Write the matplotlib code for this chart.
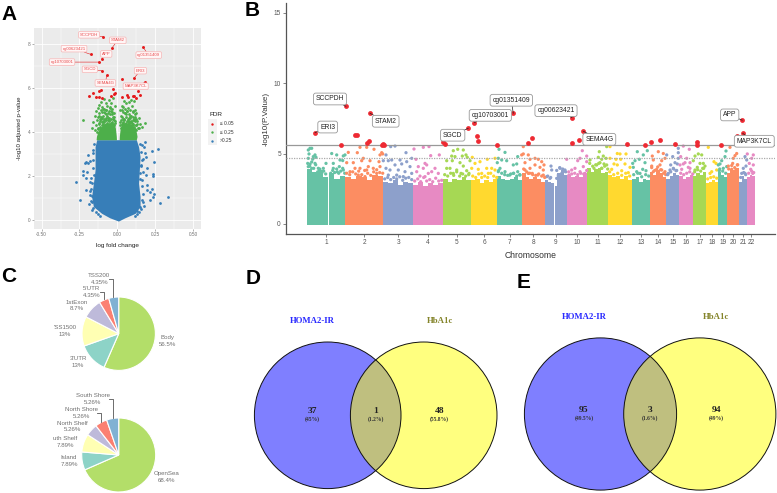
import matplotlib
matplotlib.use('Agg')
import matplotlib.pyplot as plt
from matplotlib.patches import Circle, Rectangle
import numpy as np

plt.rcParams['font.family'] = ['Liberation Sans', 'DejaVu Sans']

W, H = 777, 493

# ---- panel A, volcano ----
sig_fc = [-0.094, -0.035, -0.175, -0.103, -0.119, -0.103, -0.07, 0.17, 0.11, 0.033, 0.183, -0.028, 0.137,
          -0.123, -0.108, -0.015, -0.022, -0.185, -0.158, -0.14, -0.123, -0.103, -0.042, 0.029, 0.064, 0.073,
          0.102, 0.108, 0.152, 0.125]
sig_p = [8.33, 7.83, 7.53, 7.33, 7.18, 6.79, 6.58, 7.85, 6.45, 6.41, 6.27, 5.97, 5.85,
         5.88, 5.91, 5.79, 5.71, 5.64, 5.76, 5.59, 5.59, 5.53, 5.62, 5.59, 5.67, 5.59,
         5.64, 5.64, 5.7, 5.55]
volcano_genes = ['SCCPDH', 'STAM2', 'cg00623421', 'APP', 'cg10703001', 'cg01351409', 'SGCD', 'ERI3', 'SEMA4G', 'MAP3K7CL']
volcano_gene_idx = [0, 1, 2, 3, 4, 7, 5, 8, 6, 10]
volcano_label_fc = [-0.187, 0.003, -0.286, -0.073, -0.365, 0.207, -0.182, 0.152, -0.079, 0.121]
volcano_label_p = [8.42, 8.17, 7.79, 7.55, 7.18, 7.5, 6.85, 6.79, 6.23, 6.08]

mid_fc = [-0.228, 0.185, -0.165, -0.158, -0.15, -0.148, -0.142, -0.14, -0.135, -0.13, -0.128, -0.125, -0.122, -0.12,
          -0.118, -0.115, -0.112, -0.11, -0.108, -0.105, -0.102, -0.1, -0.098, -0.095, -0.092, -0.09, -0.088, -0.085,
          -0.082, -0.08, -0.078, -0.075, -0.072, -0.07, -0.068, -0.065, -0.062, -0.06, -0.058, -0.055, -0.052, -0.05,
          -0.048, -0.045, -0.042, -0.04, -0.038, -0.035, -0.032, -0.03, -0.028, -0.025, -0.022, -0.02, -0.018, -0.015,
          -0.105, -0.095, -0.085, -0.075, -0.065, -0.055, -0.045, -0.035, -0.025, -0.112, -0.09, -0.07, -0.05, -0.03,
          0.018, 0.02, 0.022, 0.025, 0.028, 0.03, 0.032, 0.035, 0.038, 0.04, 0.042, 0.045, 0.048, 0.05, 0.052, 0.055,
          0.058, 0.06, 0.062, 0.065, 0.068, 0.07, 0.072, 0.075, 0.078, 0.08, 0.082, 0.085, 0.088, 0.09, 0.092, 0.095,
          0.098, 0.1, 0.102, 0.105, 0.108, 0.11, 0.112, 0.115, 0.118, 0.12, 0.125, 0.13, 0.135, 0.14, 0.148, 0.16,
          0.03, 0.045, 0.055, 0.07, 0.085, 0.095, 0.105, 0.115, 0.125, 0.04, 0.06, 0.08, 0.1, 0.12,
          -0.135, -0.12, -0.105, -0.09, -0.075, -0.06, -0.045, -0.03, -0.015, -0.128, -0.113, -0.098, -0.083, -0.068,
          -0.053, -0.038, -0.023, -0.118, -0.1, -0.086, -0.072, -0.058, -0.044, -0.03, -0.092, -0.078, -0.064, -0.05,
          0.02, 0.035, 0.05, 0.065, 0.08, 0.095, 0.11, 0.125, 0.14, 0.027, 0.042, 0.057, 0.072, 0.087, 0.102, 0.117,
          0.132, 0.03, 0.048, 0.066, 0.084, 0.1, 0.118, 0.038, 0.056, 0.074, 0.09, 0.108]
mid_p = [4.55, 4.43, 4.2, 4.45, 4.1, 4.75, 4.3, 4.95, 4.55, 4.2, 4.7, 5.1, 4.4, 4.85,
         5.25, 4.6, 4.25, 5.0, 4.7, 5.35, 4.45, 4.9, 5.15, 4.35, 4.75, 5.5, 4.6, 5.05,
         4.3, 4.85, 5.3, 4.55, 5.0, 4.4, 4.75, 5.2, 4.65, 4.3, 4.95, 5.45, 4.5, 4.8,
         5.1, 4.35, 4.6, 5.3, 4.9, 4.45, 5.05, 4.7, 5.55, 4.3, 4.85, 4.55, 5.2, 4.4,
         4.15, 4.5, 4.2, 4.65, 4.1, 4.35, 4.2, 4.8, 4.15, 4.0, 4.1, 4.2, 4.05, 4.25,
         4.3, 5.0, 4.55, 4.2, 5.2, 4.7, 4.35, 4.9, 5.15, 4.45, 5.4, 4.6, 4.25, 4.85,
         5.05, 4.4, 5.3, 4.7, 4.3, 4.95, 5.1, 4.5, 4.25, 4.8, 5.35, 4.4, 4.65, 5.0,
         4.3, 5.45, 4.75, 4.2, 5.2, 4.55, 4.9, 4.35, 5.4, 4.6, 4.15, 5.0, 4.7, 4.3,
         4.85, 4.5, 4.2, 4.65, 4.35, 4.25, 4.1, 4.15, 4.05, 4.2, 4.1, 4.25, 4.05, 4.15, 4.1, 4.4,
         4.05, 4.5, 4.3, 4.6,
         4.0, 4.35, 4.6, 4.45, 4.3, 4.55, 4.4, 4.6, 4.5, 4.15, 4.5, 4.3, 4.55, 4.2,
         4.65, 4.25, 4.7, 4.75, 4.65, 4.9, 4.8, 4.55, 4.95, 4.35, 5.05, 5.0, 4.85, 5.15,
         4.45, 4.6, 4.35, 4.5, 4.65, 4.4, 4.55, 4.3, 4.2, 4.75, 4.55, 4.8, 4.6, 4.45, 4.7, 4.5,
         4.35, 5.0, 4.85, 4.95, 4.75, 4.95, 4.8, 4.3, 4.2, 4.4, 4.5, 4.25]

low_fc = [-0.275, -0.246, -0.228, -0.213, -0.207, -0.191, -0.228, -0.207, -0.18, -0.207, -0.18, -0.184, -0.165,
          -0.158, -0.191, 0.27, 0.227, 0.244, 0.183, 0.189, 0.172, 0.198, 0.233, 0.233, 0.189, 0.194, 0.227, 0.216,
          0.244, 0.198, 0.238, 0.216, 0.332, 0.282, 0.176, 0.15, 0.132, 0.183, 0.161, 0.154, -0.2, -0.178, -0.172,
          0.168, 0.16, -0.165, -0.17, 0.165, 0.175,
          -0.152, -0.158, -0.163, -0.16, -0.155, -0.168, -0.175, -0.178, -0.172, -0.16, -0.14, -0.128, -0.112,
          0.152, 0.158, 0.163, 0.156, 0.15, 0.148, 0.16, 0.168, 0.172, 0.155, 0.145, 0.13, 0.115]
low_p = [1.71, 0.91, 2.24, 2.58, 2.65, 2.61, 2.05, 1.89, 1.74, 1.36, 1.33, 0.73, 0.45,
         3.18, 2.95, 3.21, 3.15, 2.62, 3.06, 2.85, 2.76, 2.35, 2.09, 2.0, 2.05, 1.59, 1.39, 1.29,
         1.18, 1.36, 1.03, 0.91, 1.03, 0.79, 0.64, 0.61, 0.42, 3.56, 3.41, 2.5, 2.2, 2.7, 1.9,
         2.2, 1.8, 1.1, 0.8, 0.9, 3.3,
         3.45, 3.05, 2.75, 2.35, 2.05, 1.7, 1.4, 1.15, 0.85, 0.55, 0.35, 0.28, 0.2,
         3.45, 3.1, 2.75, 2.45, 2.15, 1.85, 1.55, 1.2, 0.8, 0.5, 0.35, 0.28, 0.2]

# outline of the solid blue mass
mass_p = [-0.05, 0.1, 0.3, 0.61, 1.06, 1.67, 2.27, 2.88, 3.33, 3.65]
mass_left = [0.007, -0.05, -0.103, -0.158, -0.17, -0.158, -0.147, -0.147, -0.147, -0.136]
mass_right = [0.007, 0.05, 0.117, 0.15, 0.15, 0.14, 0.145, 0.15, 0.14, 0.125]
# outline of the solid green band, both lobes
band_p = [3.65, 3.8, 4.0, 4.2, 4.4]
band_left_out = [-0.14, -0.138, -0.13, -0.115, -0.08]
band_left_in = [-0.006, -0.007, -0.01, -0.014, -0.02]
band_right_in = [0.012, 0.013, 0.016, 0.02, 0.028]
band_right_out = [0.125, 0.13, 0.125, 0.11, 0.08]

# ---- panel B, manhattan ----
chrom_names = [str(i) for i in range(1, 23)]
chrom_edges = [0, 38.6, 76.6, 106.6, 136.3, 164.3, 190.6, 215, 238.3, 260, 280.6, 301.6, 325.3, 343, 359.6,
               372.6, 386.6, 399.3, 411.3, 420.6, 432.6, 440.3, 448.3]
chrom_tops = [
    [3.9, 3.7, 3.8, 3.3, 3.6, 3.2, 3.4], [3.3, 3.2, 3.4, 3.3, 3.1, 3.5, 3.4], [3.0, 2.9, 3.1, 2.8, 3.0, 2.9],
    [2.8, 3.0, 2.7, 2.9, 2.8, 2.9], [3.2, 3.0, 3.2, 3.1, 3.3, 3.1], [3.1, 3.2, 2.9, 3.1, 3.0, 3.2],
    [3.4, 3.2, 3.1, 3.2, 3.3, 3.1], [3.6, 3.3, 3.2, 3.3, 3.2, 3.0], [3.1, 3.0, 2.9, 2.7, 3.6, 3.8, 3.5],
    [3.5, 3.3, 3.4, 3.3, 3.6], [4.0, 3.7, 3.9, 4.0, 3.6, 3.7], [3.5, 3.3, 3.4, 3.2, 3.4, 3.1],
    [3.2, 3.3, 3.0, 3.2, 3.1], [3.7, 3.5, 3.8, 3.6, 3.3], [3.2, 3.4, 3.6, 3.5], [3.4, 3.2, 3.3, 3.5],
    [3.4, 3.6, 3.5, 3.7], [2.9, 3.0, 3.1, 3.0], [3.7, 3.5, 3.3], [3.6, 3.9, 3.8, 4.0], [3.0, 3.4, 3.2], [3.3, 3.5, 3.4]]
chrom_gaps = [(21, 22), (247, 248.6)]

hits_pos = [8.3, 34.3, 39.3, 48.6, 50, 60, 62.6, 63.3, 75, 76, 77.3, 136.6, 138, 161.6, 167.6, 170.3, 171.3, 190.6,
            206.6, 221, 225.3, 265.3, 265.6, 272.3, 276.6, 320.6, 338.3, 344.3, 353.3, 368.6, 390.3, 390.3, 414,
            430.6, 435.6, 436, 446]
hits_p = [6.48, 5.6, 8.35, 6.3, 6.28, 5.77, 5.89, 7.85, 5.63, 5.67, 5.63, 5.83, 5.65, 6.79, 7.19, 6.25, 5.89, 5.6,
          7.85, 5.73, 6.1, 7.55, 5.75, 5.96, 6.58, 5.65, 5.62, 5.82, 5.96, 5.67, 5.83, 5.6, 5.62,
          6.27, 7.36, 6.43, 6.2]
manh_genes = ['SCCPDH', 'ERI3', 'STAM2', 'SGCD', 'cg10703001', 'cg01351409', 'cg00623421', 'SEMA4G', 'APP', 'MAP3K7CL']
manh_gene_idx = [2, 0, 7, 13, 14, 18, 21, 24, 34, 35]
manh_label_pos = [23.3, 21, 79, 146, 183.6, 204.6, 249.3, 292.6, 423, 447.6]
manh_label_p = [8.87, 6.88, 7.29, 6.3, 7.71, 8.78, 8.04, 6.01, 7.74, 5.87]

snp_pos = [3.3, 5, 1.6, 2.3, 8.3, 6.6, 9.3, 1.6, 6, 19.3, 25, 30, 36.6, 38.3, 33.3, 36, 26.6, 32.6, 8.3, 3.3, 11.6,
           16.6, 13.3, 5, 26.6, 36.6, 30.6, 1.6,
           41.6, 40, 46.6, 50.6, 53.3, 60, 67.3, 75, 73.3, 76, 56.6, 55, 63.3, 72.3, 76.6, 48.3, 53.3, 60, 66.6, 73.3,
           43.3, 51.6, 58.3, 70, 61.6,
           84, 88.3, 79.3, 99.3, 107.3, 81.6, 85, 93.3, 100, 105, 79.3, 88.3, 95, 103.3, 83.3, 91.6, 98.3, 105, 90, 96.6, 81.6,
           116.6, 122.3, 109.3, 124, 132.6, 118.3, 120, 111.6, 128.3, 116.6, 125, 121.6, 110, 131.6, 113.3, 118.3,
           146.6, 151, 156.6, 159.3, 160.6, 145, 148.3, 155.6, 140, 145.6, 153.3, 163.3, 143.3, 150, 140, 156.6, 160, 146.6, 154.3, 162.3,
           165.6, 173.3, 168.3, 180.6, 188.3, 190.6, 171.6, 165, 180, 185, 188.3, 175, 181.6,
           192.3, 198.3, 191.6, 195, 200, 206.6, 210, 211, 215, 216.6, 193.3, 198.3, 203, 206.6, 211, 213.3, 191.6,
           216.6, 221.6, 218.3, 223.3, 228.3, 231.6, 235, 237.3, 223.3, 228.3, 233.3, 236.6, 218.3, 225.6, 231, 236.6, 221.6,
           244.3, 240, 245, 260, 253.3, 258.3, 255, 251.6, 256.6, 250, 243.3,
           275.6, 271, 280, 283.3, 273.3, 280, 265, 268.3, 276.6, 273.3, 278.3, 262.3,
           292.6, 296.6, 291.6, 295, 299.3, 293.3, 297.3, 290, 300, 287.3, 295, 300,
           303.3, 310.6, 313.3, 319.3, 309.3, 314, 307.3, 310.6, 318.3, 323.3, 305, 315, 321.6, 303.3,
           330.6, 340.6, 336.6, 345.6, 332.6, 328.3, 326, 338.3, 326.6, 336, 339.3, 330, 333.3,
           351.6, 356.6, 360, 346.6, 355, 353.3, 358.3, 345, 350, 355, 358.3, 346.6,
           371.6, 371.6, 366, 371.6, 368.3, 364, 370.6, 366.6, 363.3, 361.6, 369.3,
           376.6, 382.6, 374, 380, 383.3, 386.6, 378.3, 373.3, 375, 381.6, 376.6, 383.3,
           391.6, 395, 388.3, 396.6, 393.3, 390.6, 398.3, 396, 388.3,
           401.6, 407.3, 409.3, 411.6, 403.3, 410, 405,
           419.3, 418.3, 415, 413.3, 416.6, 420, 412.6,
           423.3, 430, 428.3, 426.6, 426, 421.6, 430.6, 425, 429.3,
           438.3, 440, 439.3, 436.6, 435, 438.3,
           440.6, 446.6, 445, 442.6, 446.6, 444, 446,
           # dense fringe just above the solid part
           1, 3, 5, 7, 9, 11, 13, 15, 17, 19, 24, 26, 28, 30, 32, 34, 36, 38,
           40, 43, 46, 49, 52, 55, 58, 61, 64, 67, 70, 73, 76,
           78, 81, 84, 87, 90, 93, 96, 99, 102, 105,
           108, 111, 114, 117, 120, 123, 126, 129, 132, 135,
           138, 141, 144, 147, 150, 153, 156, 159, 162,
           166, 169, 172, 175, 178, 181, 184, 187, 190,
           192, 195, 198, 201, 204, 207, 210, 213,
           217, 220, 223, 226, 229, 232, 235, 238,
           241, 244, 250, 253, 256, 259,
           262, 265, 268, 271, 274, 277, 280,
           283, 286, 289, 292, 295, 298, 301,
           303, 307, 311, 315, 319, 323,
           327, 331, 335, 339, 342,
           345, 348, 351, 354, 357, 359,
           361, 364, 367, 370,
           374, 377, 380, 383, 386,
           388, 391, 394, 397,
           401, 404, 407, 410,
           413, 416, 419,
           422, 425, 428, 431,
           434, 437, 439,
           442, 445, 447]
snp_p = [5.37, 5.37, 5.25, 4.97, 4.9, 4.78, 4.73, 4.66, 4.6, 4.3, 5.0, 4.9, 4.83, 4.9, 4.54, 4.5, 4.3, 4.07, 4.3, 4.25, 3.95,
         3.95, 3.8, 3.95, 3.95, 3.83, 3.7, 4.07,
         5.08, 4.35, 4.35, 5.06, 5.44, 5.44, 5.3, 5.06, 4.9, 4.97, 4.66, 4.49, 4.49, 4.42, 4.49, 3.95, 3.95, 3.83, 3.95, 4.07,
         3.71, 3.47, 3.36, 3.59, 4.07,
         5.49, 5.53, 4.9, 5.06, 5.32, 4.49, 4.54, 4.54, 4.42, 4.66, 3.95, 4.19, 4.26, 4.07, 3.83, 3.83, 3.71, 3.59, 3.47, 3.36, 3.47,
         5.44, 5.49, 4.59, 4.85, 4.9, 4.3, 4.19, 4.07, 3.95, 3.95, 3.71, 3.59, 3.71, 3.59, 3.4, 3.36,
         5.2, 5.3, 5.25, 4.9, 4.73, 4.82, 4.78, 4.82, 4.49, 4.49, 4.35, 4.49, 3.95, 3.83, 3.95, 4.11, 3.78, 3.59, 3.59, 3.59,
         4.73, 4.42, 4.3, 4.59, 4.66, 4.35, 3.88, 3.95, 3.95, 3.95, 3.83, 3.59, 3.59,
         5.3, 5.08, 4.66, 4.54, 4.49, 4.19, 4.26, 4.78, 4.9, 4.97, 3.95, 3.71, 3.47, 3.59, 3.71, 3.47, 3.71,
         5.49, 4.9, 4.35, 4.59, 4.66, 4.59, 4.42, 4.19, 3.95, 4.19, 4.02, 3.83, 3.83, 3.59, 3.47, 3.47, 3.59,
         4.11, 3.36, 3.83, 4.59, 3.95, 3.83, 3.59, 3.47, 3.71, 3.24, 3.24,
         5.2, 4.49, 4.82, 4.54, 4.66, 4.42, 3.83, 3.95, 4.07, 3.71, 3.59, 3.47,
         5.13, 4.82, 4.73, 4.59, 4.66, 4.35, 4.26, 4.19, 4.19, 3.95, 3.95, 5.49,
         5.49, 5.0, 4.97, 4.97, 4.59, 4.59, 4.26, 4.19, 4.26, 4.02, 3.88, 3.78, 3.64, 4.66,
         5.13, 5.2, 4.9, 4.82, 4.59, 4.49, 4.3, 4.35, 4.02, 3.88, 3.78, 3.71, 3.59,
         5.13, 5.0, 4.9, 4.54, 4.49, 4.19, 4.66, 4.11, 3.88, 3.83, 3.71, 3.71,
         5.37, 5.06, 4.78, 4.66, 4.35, 4.19, 4.26, 3.95, 3.83, 3.59, 3.78,
         5.53, 5.3, 4.78, 4.66, 4.35, 4.49, 4.35, 4.19, 3.88, 4.02, 4.26, 3.95,
         4.97, 4.9, 4.82, 4.3, 4.3, 4.02, 4.11, 3.95, 3.83,
         5.44, 4.42, 4.3, 4.19, 3.59, 3.83, 3.71,
         5.18, 4.78, 4.49, 4.26, 3.95, 4.07, 3.78,
         5.44, 5.0, 4.85, 4.66, 4.3, 4.11, 4.19, 3.88, 3.83,
         4.78, 4.54, 4.11, 3.95, 3.59, 3.59,
         4.97, 4.9, 4.66, 4.3, 4.19, 3.88, 3.59,
         4.3, 4.1, 4.4, 3.95, 4.2, 3.7, 3.9, 3.6, 3.75, 3.55, 3.6, 3.8, 3.65, 3.9, 3.6, 3.75, 3.95, 3.6,
         3.6, 3.5, 3.7, 3.55, 3.75, 3.5, 3.8, 3.6, 3.45, 3.7, 3.85, 3.65, 3.6,
         3.2, 3.3, 3.15, 3.3, 3.2, 3.35, 3.1, 3.25, 3.3, 3.15,
         3.05, 3.2, 3.0, 3.3, 3.05, 3.15, 3.0, 3.25, 3.05, 3.1,
         3.5, 3.4, 3.6, 3.45, 3.7, 3.4, 3.55, 3.4, 3.5,
         3.4, 3.3, 3.55, 3.3, 3.4, 3.3, 3.6, 3.4, 3.3,
         3.8, 3.6, 3.5, 3.45, 3.55, 3.6, 3.4, 3.5,
         3.9, 3.7, 3.6, 3.5, 3.45, 3.55, 3.4, 3.3,
         3.4, 3.3, 3.8, 4.0, 3.9, 3.7,
         3.7, 3.55, 3.6, 3.5, 3.6, 3.55, 3.8,
         4.3, 4.1, 4.2, 4.3, 3.95, 4.1, 3.9,
         3.7, 3.5, 3.6, 3.45, 3.6, 3.4,
         3.5, 3.6, 3.35, 3.5, 3.4,
         4.0, 3.8, 4.05, 3.85, 3.6, 3.5,
         3.5, 3.7, 3.9, 3.8,
         3.6, 3.5, 3.6, 3.7, 3.55,
         3.7, 3.85, 3.75, 3.95,
         3.2, 3.3, 3.35, 3.25,
         3.9, 3.75, 3.6,
         3.9, 4.15, 4.0, 4.2,
         3.3, 3.65, 3.5,
         3.6, 3.75, 3.65]

# ---- panel C, pies ----
pie1_names = ['Body', "3'UTR", "'SS1500", '1stExon', "5'UTR", 'TSS200']
pie1_values = [56.5, 13, 13, 8.7, 4.35, 4.35]
pie1_text = ['56.5%', '13%', '13%', '8.7%', '4.35%', '4.35%']
pie2_names = ['OpenSea', 'Island', 'uth Shelf', 'North Shelf', 'North Shore', 'South Shore']
pie2_values = [68.4, 7.89, 7.89, 5.26, 5.26, 5.26]
pie2_text = ['68.4%', '7.89%', '7.89%', '5.26%', '5.26%', '5.26%']
pie_colors = ['#B3DE69', '#8DD3C7', '#FFFFB3', '#BEBADA', '#FB8072', '#80B1D3']

# ---- panels D and E, venn ----
venn_d_counts = ['37', '1', '48']
venn_d_pct = ['(45%)', '(1.2%)', '(55.8%)']
venn_e_counts = ['95', '3', '94']
venn_e_pct = ['(49.5%)', '(1.6%)', '(49%)']


def px_axes(fig, left, top, right, bottom):
    return fig.add_axes([left / W, 1 - bottom / H, (right - left) / W, (bottom - top) / H])


def draw_volcano(ax):
    ax.set_facecolor('#EBEBEB')
    ax.set_xlim(-0.55, 0.552)
    ax.set_ylim(-0.41, 8.73)
    ax.set_xticks([-0.5, -0.25, 0, 0.25, 0.5])
    ax.set_xticklabels(['-0.50', '-0.25', '0.00', '0.25', '0.50'])
    ax.set_yticks([0, 2, 4, 6, 8])
    ax.set_xticks([-0.375, -0.125, 0.125, 0.375], minor=True)
    ax.set_yticks([1, 3, 5, 7], minor=True)
    ax.grid(which='major', color='white', lw=0.6)
    ax.grid(which='minor', color='white', lw=0.3)
    ax.set_axisbelow(True)
    ax.tick_params(which='major', labelsize=3.4, labelcolor='#707070', color='#707070', length=1.5, width=0.4, pad=1)
    ax.tick_params(which='minor', length=0)
    for s in ax.spines.values():
        s.set_visible(False)
    ax.set_xlabel('log fold change', fontsize=4.6, labelpad=4, color='#222222')
    ax.set_ylabel('-log10 adjusted p-value', fontsize=4.4, labelpad=4, color='#222222')

    blue = '#377EB8'
    green = '#4DAF4A'
    red = '#E41A1C'
    ax.fill_betweenx(mass_p, mass_left, mass_right, color=blue, lw=0, zorder=2)
    ax.scatter(low_fc, low_p, s=4, color=blue, lw=0, zorder=2)
    ax.fill_betweenx(band_p, band_left_out, band_left_in, color=green, lw=0, zorder=2)
    ax.fill_betweenx(band_p, band_right_in, band_right_out, color=green, lw=0, zorder=2)
    ax.scatter(mid_fc, mid_p, s=4, color=green, lw=0, zorder=3)
    ax.scatter(sig_fc, sig_p, s=4.5, color=red, lw=0, zorder=4)

    for name, idx, lx, ly in zip(volcano_genes, volcano_gene_idx, volcano_label_fc, volcano_label_p):
        ax.annotate(name, (sig_fc[idx], sig_p[idx]), xytext=(lx, ly), fontsize=3.1, color='#E8494B',
                    ha='center', va='center', zorder=5,
                    bbox=dict(boxstyle='round,pad=0.3', fc='#FFF6F6', ec='#F7B5B5', lw=0.5),
                    arrowprops=dict(arrowstyle='-', color=red, lw=0.4, shrinkA=0, shrinkB=0))


def draw_manhattan(ax):
    ax.set_xlim(-21, 468.3)
    ax.set_ylim(-0.71, 15.68)
    for s in ['top', 'right']:
        ax.spines[s].set_visible(False)
    for s in ['left', 'bottom']:
        ax.spines[s].set_color('#555555')
        ax.spines[s].set_linewidth(0.9)
    edges = np.array(chrom_edges)
    ax.set_xticks((edges[:-1] + edges[1:]) / 2)
    ax.set_xticklabels(chrom_names)
    ax.set_yticks([0, 5, 10, 15])
    ax.tick_params(labelsize=4.7, labelcolor='#555555', color='#555555', length=2, width=0.5, pad=1.5)
    ax.set_xlabel('Chromosome', fontsize=6.2, labelpad=4, color='#333333')
    ax.set_ylabel('-log10(P.Value)', fontsize=5.8, labelpad=3, color='#333333')

    cols = ['#66C2A5', '#FC8D62', '#8DA0CB', '#E78AC3', '#A6D854', '#FFD92F']
    for i, tops in enumerate(chrom_tops):
        xs = np.linspace(edges[i], edges[i + 1], len(tops) + 1)
        ax.stairs(tops, xs, baseline=-0.1, fill=True, color=cols[i % 6], lw=0, zorder=1)
    for a, b in chrom_gaps:
        ax.fill_between([a, b], -0.2, 4.5, color='white', lw=0, zorder=1.5)
    idx = np.searchsorted(edges, snp_pos, side='right') - 1
    snp_cols = [cols[min(k, 21) % 6] for k in idx]
    ax.scatter(snp_pos, snp_p, s=5.5, c=snp_cols, lw=0, zorder=2)
    ax.axhline(5.58, color='#999999', lw=0.9, zorder=3)
    ax.axhline(4.71, color='#aaaaaa', lw=0.9, ls=(0, (1, 1)), zorder=3)
    ax.scatter(hits_pos, hits_p, s=12, color='#EE2A33', lw=0, zorder=4)

    for name, idx, lx, ly in zip(manh_genes, manh_gene_idx, manh_label_pos, manh_label_p):
        ax.annotate(name, (hits_pos[idx], hits_p[idx]), xytext=(lx, ly), fontsize=4.9, color='#222222',
                    ha='center', va='center', zorder=5, annotation_clip=False,
                    bbox=dict(boxstyle='round,pad=0.35', fc='white', ec='#999999', lw=0.6),
                    arrowprops=dict(arrowstyle='-', color='#222222', lw=0.5, shrinkA=0, shrinkB=0))


def draw_pie(fig, cx, cy, r, values):
    ax = px_axes(fig, cx - r, cy - r, cx + r, cy + r)
    ax.pie(values, colors=pie_colors, startangle=90, counterclock=False, radius=1,
           wedgeprops=dict(edgecolor='white', linewidth=0.8))
    ax.set_xlim(-1, 1)
    ax.set_ylim(-1, 1)


def pie_labels(ov, names, pct, spots):
    for name, p, (x, y) in zip(names, pct, spots):
        ov.text(x, y, name + '\n' + p, fontsize=4.4, color='#707070', ha='center', va='center', linespacing=1.4)


def draw_venn(ov, lx, rx, cy, r, title_y, num_y, pct_y, text_x, counts, pct):
    ov.add_patch(Circle((lx, cy), r, fc='#0000FF', alpha=0.5, lw=0))
    ov.add_patch(Circle((rx, cy), r, fc='#FFFF00', alpha=0.5, lw=0))
    ov.add_patch(Circle((lx, cy), r, fc='none', ec='#111111', lw=0.7))
    ov.add_patch(Circle((rx, cy), r, fc='none', ec='#111111', lw=0.7))
    ov.text(text_x[0], title_y, 'HOMA2-IR', family='Liberation Serif', weight='bold', fontsize=6.3, color='#2A2AFF',
            ha='center', va='center')
    ov.text(text_x[2], title_y, 'HbA1c', family='Liberation Serif', weight='bold', fontsize=6.3, color='#84842A',
            ha='center', va='center')
    for x, c, p in zip(text_x, counts, pct):
        ov.text(x, num_y, c, family='Liberation Serif', weight='bold', fontsize=6.8, color='#222222', ha='center', va='center')
        ov.text(x, pct_y, p, family='Liberation Serif', weight='bold', fontsize=4, color='#333333', ha='center', va='center')


def main():
    fig = plt.figure(figsize=(W / 100, H / 100), dpi=100)

    draw_volcano(px_axes(fig, 34, 28, 201, 229))
    draw_manhattan(px_axes(fig, 285.7, 3, 775, 234))
    draw_pie(fig, 118.7, 333.7, 36.7, pie1_values)
    draw_pie(fig, 118.7, 455, 37, pie2_values)

    # overlay in pixel coordinates for free text and the venns
    ov = fig.add_axes([0, 0, 1, 1], zorder=10)
    ov.set_xlim(0, W)
    ov.set_ylim(H, 0)
    ov.axis('off')
    ov.patch.set_alpha(0)

    for name, x, y in [('A', 1, 14), ('B', 245, 11), ('C', 1, 276), ('D', 246, 279), ('E', 517, 283)]:
        ov.text(x, y, name, fontsize=15, weight='bold', color='black', ha='left', va='center')

    # volcano legend
    ov.text(209, 114, 'FDR', fontsize=4.6, color='#222222', ha='left', va='center')
    for y, label, col in [(123.7, '\u2264 0.05', '#E41A1C'), (132.3, '\u2264 0.25', '#4DAF4A'), (141, '>0.25', '#377EB8')]:
        ov.add_patch(Rectangle((208, y - 4.3), 8.6, 8.6, fc='#F2F2F2', ec='none'))
        ov.scatter([212.3], [y], s=3, color=col, lw=0)
        ov.text(220, y, label, fontsize=3.5, color='#333333', ha='left', va='center')

    pie_labels(ov, pie1_names, pie1_text,
               [(167.7, 341.3), (78, 362), (65, 331), (76.7, 305.5), (91.7, 292.3), (99.3, 279)])
    pie_labels(ov, pie2_names, pie2_text,
               [(166.7, 477.3), (69, 461), (65, 442), (72, 426.5), (81.3, 412.7), (93, 399)])
    for xs, ys in [([109, 113.3, 113.3], [279, 279, 297]), ([100, 103.7, 103.7], [292.3, 292.3, 299.3]),
                   ([109.3, 112.7, 112.7], [399.3, 399.3, 418.3]), ([97.3, 100.7, 100.7], [412.7, 412.7, 421.7])]:
        ov.plot(xs, ys, color='#555555', lw=0.6)

    draw_venn(ov, 327.7, 423.7, 415.3, 73.3, 321.3, 411, 419.3, [312, 376, 439.7], venn_d_counts, venn_d_pct)
    draw_venn(ov, 600.5, 699.8, 414, 76.1, 317, 409.7, 418, [584, 649.7, 716], venn_e_counts, venn_e_pct)

    fig.savefig('out.png', dpi=100, facecolor='white')


if __name__ == "__main__":
    main()
